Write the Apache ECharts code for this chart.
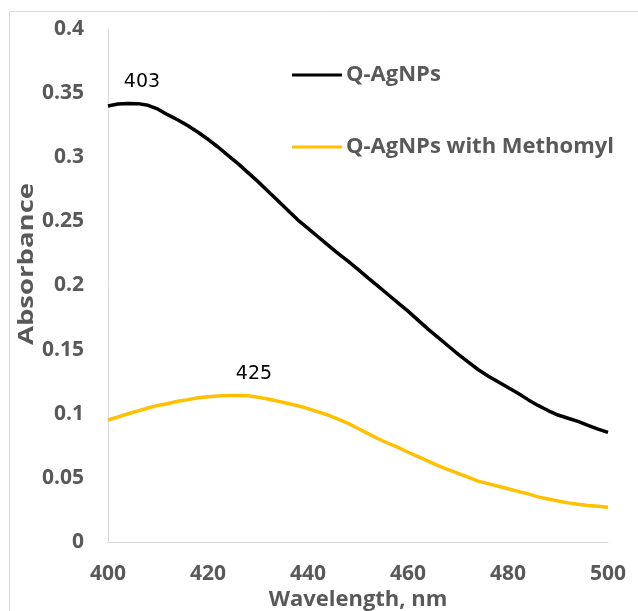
<!DOCTYPE html>
<html>
<head>
<meta charset="utf-8">
<script src="https://cdn.jsdelivr.net/npm/echarts@6/dist/echarts.min.js"></script>
<style>html,body{margin:0;padding:0;background:#fff;overflow:hidden}#c{width:638px;height:611px}</style>
</head>
<body>
<div id="c"></div>
<script>
const wavelengths = [400,402,404,406,408,410,412,414,416,418,420,422,424,426,428,430,432,434,436,438,440,442,444,446,448,450,452,454,456,458,460,462,464,466,468,470,472,474,476,478,480,482,484,486,488,490,492,494,496,498,500];
const qAgNPs = [0.340,0.3415,0.342,0.3418,0.3405,0.3375,0.333,0.329,0.3245,0.3195,0.314,0.308,0.3015,0.295,0.288,0.281,0.2735,0.266,0.2585,0.251,0.2445,0.238,0.2315,0.225,0.219,0.2125,0.206,0.1995,0.193,0.1865,0.180,0.173,0.166,0.1595,0.153,0.1465,0.1405,0.1345,0.1295,0.125,0.1205,0.116,0.111,0.1065,0.1025,0.099,0.0965,0.094,0.091,0.088,0.0855];
const qAgNPsMethomyl = [0.0952,0.0975,0.100,0.1022,0.1045,0.1065,0.108,0.1098,0.111,0.1125,0.1133,0.1138,0.1142,0.1142,0.114,0.1128,0.1115,0.1098,0.108,0.1062,0.104,0.1015,0.099,0.0958,0.0925,0.0885,0.0845,0.0805,0.077,0.0738,0.070,0.0665,0.063,0.0595,0.0565,0.0535,0.0505,0.0475,0.0455,0.0435,0.0415,0.0395,0.0375,0.0352,0.0335,0.032,0.0305,0.0295,0.0285,0.0278,0.0271];
const seriesNames = ['Q-AgNPs','Q-AgNPs with Methomyl'];
const peaks = [[403,0.342,'403'],[425,0.1142,'425']];
const xTitle = 'Wavelength, nm';
const yTitle = 'Absorbance';

const chart = echarts.init(document.getElementById('c'), null, {renderer:'canvas'});
const tickFont = {fontFamily:'Open Sans', fontWeight:'bold', fontSize:21, color:'#595959'};
function pairs(ys){ return wavelengths.map((x,i)=>[x, ys[i]]); }
function mp(p, off){ return {data:[{coord:[p[0],p[1]], value:p[2]}], symbol:'circle', symbolSize:0, silent:true, animation:false,
  label:{show:true, position:'inside', offset:off, formatter:p[2], fontFamily:'DejaVu Sans', fontSize:19, color:'#000'}}; }
chart.setOption({
  animation:false,
  backgroundColor:'#fff',
  grid:{left:108, top:29, right:30, bottom:69, containLabel:false, outerBoundsMode:'none'},
  graphic:[
    {type:'rect', left:7, top:9, shape:{width:700, height:700}, style:{fill:'none', stroke:'#d9d9d9', lineWidth:1}, silent:true, z:-10},
    {type:'text', x:27, y:264, rotation:Math.PI/2, scaleX:1.25, style:{text:yTitle, fontFamily:'Open Sans', fontWeight:'bold', fontSize:22, fill:'#595959', align:'center', verticalAlign:'middle'}}
  ],
  legend:{orient:'vertical', left:292, top:64, padding:0, itemWidth:50, itemHeight:3, itemGap:50, icon:'rect',
    textStyle:{fontFamily:'Open Sans', fontWeight:'bold', fontSize:22, color:'#595959', lineHeight:22, padding:[0,0,0,-1]},
    data:seriesNames},
  xAxis:{type:'value', min:400, max:500, interval:20,
    name:xTitle, nameLocation:'middle', nameGap:47, nameMoveOverlap:false,
    nameTextStyle:{fontFamily:'Open Sans', fontWeight:'bold', fontSize:22, color:'#595959'},
    axisLine:{show:true, lineStyle:{color:'#d9d9d9', width:1}}, axisTick:{show:false}, splitLine:{show:false},
    axisLabel:Object.assign({margin:22}, tickFont)},
  yAxis:{type:'value', min:0, max:0.4, interval:0.05,
    axisLine:{show:true, lineStyle:{color:'#d9d9d9', width:1}}, axisTick:{show:false}, splitLine:{show:false},
    axisLabel:Object.assign({margin:24, formatter:v=>String(+v.toFixed(2))}, tickFont)},
  series:[
    {name:seriesNames[0], type:'line', data:pairs(qAgNPs), showSymbol:false, symbol:'none', color:'#000000', lineStyle:{width:3.5, color:'#000000'}, markPoint:mp(peaks[0],[19,-21])},
    {name:seriesNames[1], type:'line', data:pairs(qAgNPsMethomyl), showSymbol:false, symbol:'none', color:'#FFC000', lineStyle:{width:3.5, color:'#FFC000'}, markPoint:mp(peaks[1],[21,-21])}
  ]
});
</script>
</body>
</html>
